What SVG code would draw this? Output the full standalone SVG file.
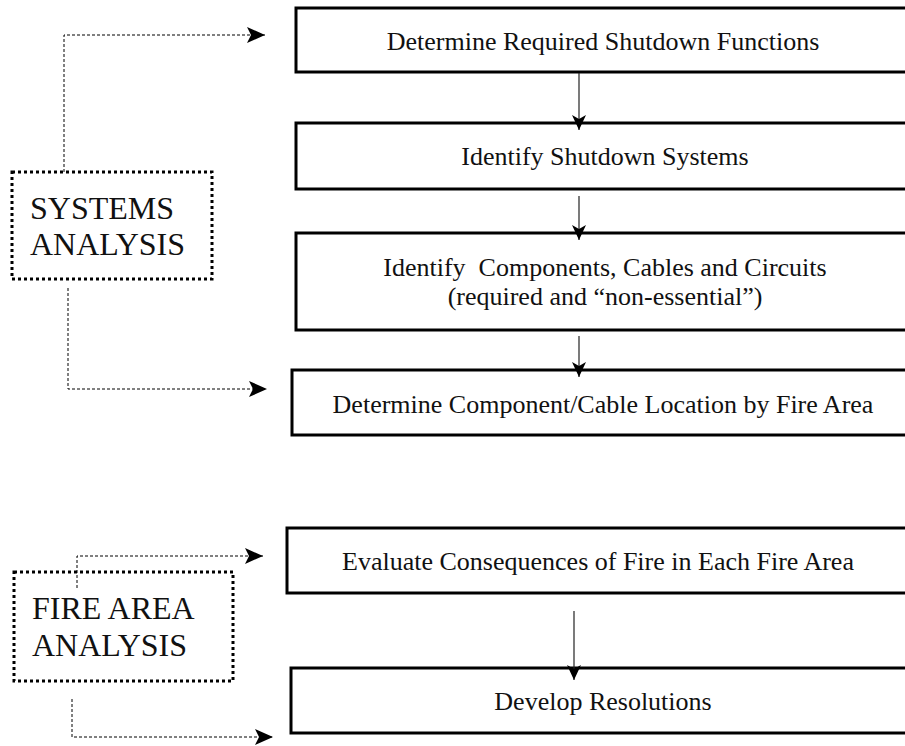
<svg xmlns="http://www.w3.org/2000/svg" width="905" height="746" viewBox="0 0 905 746">
<style>
.box{fill:#fff;stroke:#000;stroke-width:3}
.dot{fill:#fff;stroke:#000;stroke-width:3;stroke-dasharray:3 3}
.t{font-family:"Liberation Serif","Times New Roman",serif;font-size:26px;fill:#111;text-anchor:middle}
.lbl{font-family:"Liberation Serif","Times New Roman",serif;font-size:32px;fill:#111}
.dash{fill:none;stroke:#000;stroke-width:1;stroke-dasharray:3 2}
.sol{fill:none;stroke:#222;stroke-width:1.2}
</style>
<defs>
<marker id="big" markerUnits="userSpaceOnUse" markerWidth="19" markerHeight="17" refX="18" refY="8" orient="auto">
<path d="M0,0 L18,8 L0,16 L4,8 z" fill="#000"/>
</marker>
<marker id="small" markerUnits="userSpaceOnUse" markerWidth="16" markerHeight="15" refX="15" refY="7" orient="auto">
<path d="M0,0 L15,7 L0,14 L4,7 z" fill="#000"/>
</marker>
</defs>
<g id="systems-analysis">
<rect class="dot" x="12" y="172" width="200" height="107"/>
<text class="lbl" x="30" y="219">SYSTEMS</text>
<text class="lbl" x="30" y="255">ANALYSIS</text>
</g>
<g id="fire-area-analysis">
<rect class="dot" x="14" y="572" width="219" height="109"/>
<text class="lbl" x="32" y="619">FIRE AREA</text>
<text class="lbl" x="32" y="656">ANALYSIS</text>
</g>
<g id="n1">
<rect class="box" x="296" y="8" width="620" height="64"/>
<text class="t" x="603" y="50">Determine Required Shutdown Functions</text>
</g>
<g id="n2">
<rect class="box" x="296" y="123" width="620" height="66"/>
<text class="t" x="605" y="165">Identify Shutdown Systems</text>
</g>
<g id="n3">
<rect class="box" x="296" y="233" width="620" height="97"/>
<text class="t" x="605" y="276" xml:space="preserve">Identify  Components, Cables and Circuits</text>
<text class="t" x="605" y="305">(required and “non-essential”)</text>
</g>
<g id="n4">
<rect class="box" x="292" y="370" width="620" height="65"/>
<text class="t" x="603" y="413">Determine Component/Cable Location by Fire Area</text>
</g>
<g id="n5">
<rect class="box" x="287" y="528" width="620" height="65"/>
<text class="t" x="598" y="570">Evaluate Consequences of Fire in Each Fire Area</text>
</g>
<g id="n6">
<rect class="box" x="291" y="668" width="620" height="65"/>
<text class="t" x="603" y="710">Develop Resolutions</text>
</g>
<g id="connectors">
<path class="dash" d="M64,172 V35 H265" marker-end="url(#big)"/>
<path class="dash" d="M68,288 V389 H267" marker-end="url(#big)"/>
<path class="dash" d="M77,588 V556 H263" marker-end="url(#big)"/>
<path class="dash" d="M72,699 V737 H273" marker-end="url(#big)"/>
<path class="sol" d="M579,73 V130" marker-end="url(#small)"/>
<path class="sol" d="M579,196 V240" marker-end="url(#small)"/>
<path class="sol" d="M579,336 V377" marker-end="url(#small)"/>
<path class="sol" d="M574,611 V680" marker-end="url(#small)"/>
</g>
</svg>
